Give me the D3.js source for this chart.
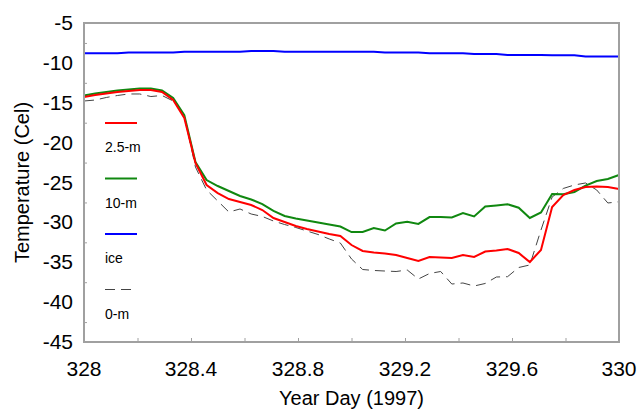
<!DOCTYPE html>
<html>
<head>
<meta charset="utf-8">
<script src="https://cdn.jsdelivr.net/npm/d3@7"></script>
<style>
  body { margin: 0; background: #fff; }
  text { font-family: Arial, "Liberation Sans", sans-serif; }
</style>
</head>
<body>
<div id="chart"></div>
<script>
var margin = { top: 23, right: 20, bottom: 69, left: 84 };
var width = 639 - margin.left - margin.right;
var height = 411 - margin.top - margin.bottom;

// hourly samples, year day 328 -> 330
var startDay = 328;
var ice = [-8.8, -8.8, -8.8, -8.8, -8.7, -8.7, -8.7, -8.7, -8.7, -8.6,
  -8.6, -8.6, -8.6, -8.6, -8.6, -8.5, -8.5, -8.5, -8.6, -8.6,
  -8.6, -8.6, -8.6, -8.6, -8.6, -8.6, -8.6, -8.7, -8.7, -8.7,
  -8.7, -8.8, -8.8, -8.8, -8.8, -8.9, -8.9, -8.9, -9.0, -9.0,
  -9.0, -9.0, -9.05, -9.05, -9.05, -9.2, -9.2, -9.2, -9.2];
var m2_5 = [-14.28, -14.03, -13.84, -13.65, -13.53, -13.4, -13.4, -13.65, -14.66, -16.91,
  -22.55, -25.31, -26.32, -27.07, -27.45, -27.82, -28.45, -29.45, -29.95, -30.45,
  -30.83, -31.14, -31.46, -31.71, -32.84, -33.59, -33.78, -33.9, -34.09, -34.47,
  -34.84, -34.34, -34.4, -34.47, -34.09, -34.34, -33.65, -33.53, -33.34, -33.84,
  -34.97, -33.46, -28.07, -26.57, -25.94, -25.56, -25.5, -25.56, -25.82];
var m10 = [-14.09, -13.84, -13.65, -13.46, -13.34, -13.21, -13.21, -13.46, -14.4, -16.54,
  -22.43, -24.69, -25.44, -26.07, -26.69, -27.13, -27.7, -28.57, -29.2, -29.51,
  -29.76, -30.02, -30.27, -30.52, -31.21, -31.21, -30.71, -31.02, -30.14, -29.92,
  -30.2, -29.33, -29.33, -29.39, -28.82, -29.26, -28.01, -27.88, -27.73, -28.16,
  -29.45, -28.76, -26.44, -26.48, -26.19, -25.38, -24.81, -24.56, -24.06];
var m0 = [-14.78, -14.66, -14.34, -14.09, -13.9, -13.9, -14.22, -14.09, -14.78, -16.66,
  -23.06, -25.94, -27.32, -28.7, -28.32, -28.95, -29.26, -29.83, -30.27, -30.64,
  -31.08, -31.52, -32.08, -32.59, -34.59, -35.91, -36.03, -36.1, -36.16, -35.97,
  -37.1, -36.41, -36.16, -37.73, -37.6, -37.98, -37.66, -36.85, -36.81, -35.66,
  -35.34, -30.96, -26.82, -25.75, -25.31, -25.06, -25.94, -27.57, -27.41];

var xTicks = [328, 328.4, 328.8, 329.2, 329.6, 330];
var yTicks = [-5, -10, -15, -20, -25, -30, -35, -40, -45];

var series = [
  { name: "2.5-m", values: m2_5, color: "#ff0000", width: 2, dash: null },
  { name: "10-m", values: m10, color: "#108810", width: 2, dash: null },
  { name: "ice", values: ice, color: "#0000ff", width: 2, dash: null },
  { name: "0-m", values: m0, color: "#444", width: 1, dash: "10,6" }
];

var xScale = d3.scaleLinear().domain([328, 330]).range([0, width]);
var yScale = d3.scaleLinear().domain([-45, -5]).range([height, 0]);

var svg = d3.select('#chart').append('svg')
    .attr("width", width + margin.left + margin.right)
    .attr("height", height + margin.top + margin.bottom);
var chart = svg.append("g")
    .attr("transform", "translate(" + margin.left + "," + margin.top + ")");

// inward minor ticks
var xAxis = d3.axisBottom(xScale)
    .tickValues(d3.range(328.2, 330, 0.2))
    .tickSize(-4).tickFormat("");
chart.append("g").attr("transform", "translate(0," + height + ")").call(xAxis)
    .call(function(g) { g.select(".domain").remove(); })
    .selectAll("line").attr("stroke", "#a0a0a0");

var yAxis = d3.axisLeft(yScale)
    .tickValues(d3.range(-42.5, -5, 5))
    .tickSize(-3).tickFormat("");
chart.append("g").call(yAxis)
    .call(function(g) { g.select(".domain").remove(); })
    .selectAll("line").attr("stroke", "#a0a0a0");

// tick labels
chart.selectAll(".xl").data(xTicks).enter().append("text")
    .attr("x", function(d) { return xScale(d); })
    .attr("y", height + 34)
    .attr("text-anchor", "middle")
    .style("font-size", "21px")
    .text(function(d) { return d; });

chart.selectAll(".yl").data(yTicks).enter().append("text")
    .attr("x", -11)
    .attr("y", function(d) { return yScale(d) + 7; })
    .attr("text-anchor", "end")
    .style("font-size", "21px")
    .text(function(d) { return d; });

// lines
var line = d3.line()
    .x(function(d, i) { return xScale(startDay + i / 24); })
    .y(function(d) { return yScale(d); });

series.slice().reverse().forEach(function(s) {
    chart.append("path")
        .datum(s.values)
        .attr("fill", "none")
        .attr("stroke", s.color)
        .attr("stroke-width", s.width)
        .attr("stroke-dasharray", s.dash)
        .attr("d", line);
});

// frame
chart.append("rect")
    .attr("width", width).attr("height", height)
    .attr("fill", "none")
    .attr("stroke", "#a0a0a0")
    .attr("stroke-width", 2);

// legend
var legend = chart.selectAll(".leg").data(series).enter().append("g")
    .attr("transform", function(d, i) { return "translate(21," + (100 + i * 55.5) + ")"; });
legend.append("line")
    .attr("x1", 0).attr("x2", 32)
    .attr("stroke", function(d) { return d.color; })
    .attr("stroke-width", function(d) { return d.width; })
    .attr("stroke-dasharray", function(d) { return d.dash; });
legend.append("text")
    .attr("x", 0).attr("y", 29)
    .style("font-size", "14px")
    .text(function(d) { return d.name; });

// axis titles
svg.append("text")
    .attr("x", margin.left + width / 2)
    .attr("y", 405)
    .attr("text-anchor", "middle")
    .style("font-size", "20px")
    .text("Year Day (1997)");

svg.append("text")
    .attr("transform", "translate(29," + (margin.top + height / 2) + ") rotate(-90)")
    .attr("text-anchor", "middle")
    .style("font-size", "20px")
    .text("Temperature (Cel)");
</script>
</body>
</html>
